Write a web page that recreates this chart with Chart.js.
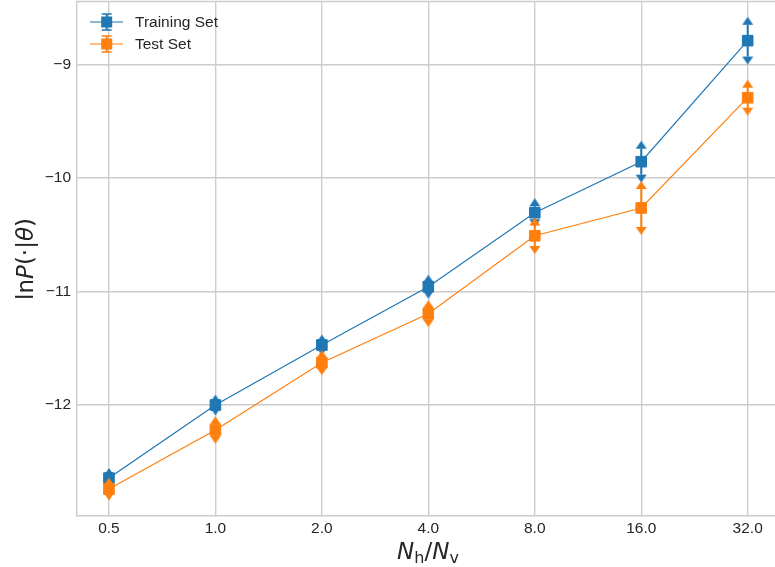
<!DOCTYPE html>
<html><head><meta charset="utf-8">
<script src="https://cdn.jsdelivr.net/npm/chart.js@4/dist/chart.umd.min.js"></script>
<style>html,body{margin:0;padding:0;background:#fff;} canvas{display:block;}</style>
</head><body>
<canvas id="c" width="775" height="567"></canvas>
<script>
// ---- data ----
const ratios = [0.5, 1, 2, 4, 8, 16, 32];
const xTickLabels = ['0.5', '1.0', '2.0', '4.0', '8.0', '16.0', '32.0'];
const yTicks = [-12, -11, -10, -9];
const trainMean = [-12.644, -12.0, -11.471, -10.957, -10.305, -9.855, -8.788];
const trainErr  = [0.018, 0.021, 0.021, 0.035, 0.057, 0.114, 0.14];
const testMean  = [-12.741, -12.220, -11.627, -11.195, -10.508, -10.263, -9.291];
const testErr   = [0.03, 0.05, 0.04, 0.048, 0.09, 0.167, 0.088];
const seriesNames = ['Training Set', 'Test Set'];

// ---- styles ----
const BLUE = '#1f77b4', ORANGE = '#ff7f0e';
const TEXT = '#262626', GRID = '#cccccc';
const TICK_FONT = {family: '"Liberation Sans", Arial, sans-serif', size: 15.5};

function capCanvas(color, up) {
  const c = document.createElement('canvas');
  c.width = 12; c.height = 20;
  const g = c.getContext('2d');
  g.fillStyle = color;
  g.beginPath();
  if (up) { g.moveTo(0.5, 10); g.lineTo(11.5, 10); g.lineTo(6, 2); }
  else { g.moveTo(0.5, 10); g.lineTo(11.5, 10); g.lineTo(6, 18); }
  g.closePath(); g.fill();
  return c;
}

function seriesDatasets(name, mean, err, color, baseOrder) {
  const errData = [];
  ratios.forEach((r, i) => {
    errData.push({x: r, y: mean[i] - err[i]});
    errData.push({x: r, y: mean[i] + err[i]});
    errData.push({x: r, y: null});
  });
  return [
    { label: name + ' err', data: errData, borderColor: color, borderWidth: 2,
      pointRadius: 0, spanGaps: false, order: baseOrder + 2 },
    { label: name + ' up', data: ratios.map((r, i) => ({x: r, y: mean[i] + err[i]})),
      showLine: false, pointStyle: capCanvas(color, true), pointRadius: 6, order: baseOrder + 1 },
    { label: name + ' down', data: ratios.map((r, i) => ({x: r, y: mean[i] - err[i]})),
      showLine: false, pointStyle: capCanvas(color, false), pointRadius: 6, order: baseOrder + 1 },
    { label: name, data: ratios.map((r, i) => ({x: r, y: mean[i]})),
      borderColor: color, backgroundColor: color, borderWidth: 1.2,
      pointStyle: 'rect', pointRadius: 7.5, pointBorderWidth: 1,
      pointBorderColor: color, pointBackgroundColor: color, order: baseOrder }
  ];
}

const datasets = [
  ...seriesDatasets(seriesNames[1], testMean, testErr, ORANGE, 0),
  ...seriesDatasets(seriesNames[0], trainMean, trainErr, BLUE, 10)
];

function noPad(s) { s.paddingLeft = 0; s.paddingRight = 0; s.paddingTop = 0; s.paddingBottom = 0; }

const extras = {
  id: 'extras',
  beforeDatasetsDraw(chart) {
    const {ctx, chartArea} = chart;
    ctx.save();
    ctx.strokeStyle = GRID; ctx.lineWidth = 1.4;
    ctx.beginPath();
    ctx.moveTo(chartArea.left, chartArea.top);
    ctx.lineTo(chartArea.right, chartArea.top);
    ctx.stroke();
    ctx.restore();
  },
  afterDraw(chart) {
    const ctx = chart.ctx;
    ctx.save();
    // legend
    const items = [[seriesNames[0], BLUE, 22], [seriesNames[1], ORANGE, 44]];
    items.forEach(([name, color, y]) => {
      const cx = 106.7;
      ctx.strokeStyle = color; ctx.lineWidth = 1.2;
      ctx.beginPath(); ctx.moveTo(90, y); ctx.lineTo(123, y); ctx.stroke();
      ctx.lineWidth = 2;
      ctx.beginPath(); ctx.moveTo(cx, y - 8); ctx.lineTo(cx, y + 8); ctx.stroke();
      ctx.lineWidth = 1.5;
      ctx.beginPath();
      ctx.moveTo(cx - 5, y - 8); ctx.lineTo(cx + 5, y - 8);
      ctx.moveTo(cx - 5, y + 8); ctx.lineTo(cx + 5, y + 8);
      ctx.stroke();
      ctx.fillStyle = color;
      ctx.fillRect(cx - 5.5, y - 5.5, 11, 11);
      ctx.fillStyle = TEXT;
      ctx.font = '15.5px "Liberation Sans", Arial, sans-serif';
      ctx.textBaseline = 'middle'; ctx.textAlign = 'left';
      ctx.fillText(name, 135, y + 1);
    });

    // axis titles with math-style segments
    function drawSegs(segs, x0, y0) {
      let x = x0;
      segs.forEach(s => {
        ctx.font = (s.it ? 'italic ' : '') + s.size + 'px "DejaVu Sans"';
        ctx.fillText(s.t, x, y0 + (s.dy || 0));
        x += ctx.measureText(s.t).width;
      });
    }
    function measureSegs(segs) {
      let w = 0;
      segs.forEach(s => {
        ctx.font = (s.it ? 'italic ' : '') + s.size + 'px "DejaVu Sans"';
        w += ctx.measureText(s.t).width;
      });
      return w;
    }
    ctx.fillStyle = TEXT;
    ctx.textBaseline = 'alphabetic'; ctx.textAlign = 'left';
    const ySegs = [
      {t: 'ln', size: 23}, {t: 'P', it: true, size: 23}, {t: '(\u00b7|', size: 23},
      {t: '\u03b8', it: true, size: 23}, {t: ')', size: 23}
    ];
    const yw = measureSegs(ySegs);
    ctx.save();
    ctx.translate(33, 259);
    ctx.rotate(-Math.PI / 2);
    drawSegs(ySegs, -yw / 2, 0);
    ctx.restore();

    const xSegs = [
      {t: 'N', it: true, size: 23}, {t: 'h', size: 16, dy: 3.5}, {t: '/', size: 23},
      {t: 'N', it: true, size: 23}, {t: 'v', size: 16, dy: 3.5}
    ];
    const xw = measureSegs(xSegs);
    drawSegs(xSegs, 428 - xw / 2, 559);
    ctx.restore();
  }
};

new Chart(document.getElementById('c'), {
  type: 'line',
  data: { datasets },
  plugins: [extras],
  options: {
    responsive: false,
    animation: false,
    events: [],
    layout: { autoPadding: false, padding: { top: 1.5, left: 0, right: 0, bottom: 0 } },
    plugins: { legend: { display: false }, tooltip: { enabled: false } },
    scales: {
      x: {
        type: 'logarithmic', min: 0.4061, max: 38.23,
        afterBuildTicks: s => { s.ticks = ratios.map(v => ({value: v})); },
        afterFit: s => { s.height = 51.5; noPad(s); },
        ticks: {
          callback: v => xTickLabels[ratios.indexOf(v)],
          font: TICK_FONT, color: TEXT, padding: 4, autoSkip: false, maxRotation: 0
        },
        grid: { color: GRID, lineWidth: 1.4, drawTicks: false },
        border: { color: GRID, width: 1.4 }
      },
      y: {
        type: 'linear', min: -12.974, max: -8.443,
        afterBuildTicks: s => { s.ticks = yTicks.map(v => ({value: v})); },
        afterFit: s => { s.width = 77; noPad(s); },
        ticks: {
          callback: v => String(v).replace('-', '\u2212'),
          font: TICK_FONT, color: TEXT, padding: 6
        },
        grid: { color: GRID, lineWidth: 1.4, drawTicks: false },
        border: { color: GRID, width: 1.4 }
      }
    }
  }
});
</script>
</body></html>
